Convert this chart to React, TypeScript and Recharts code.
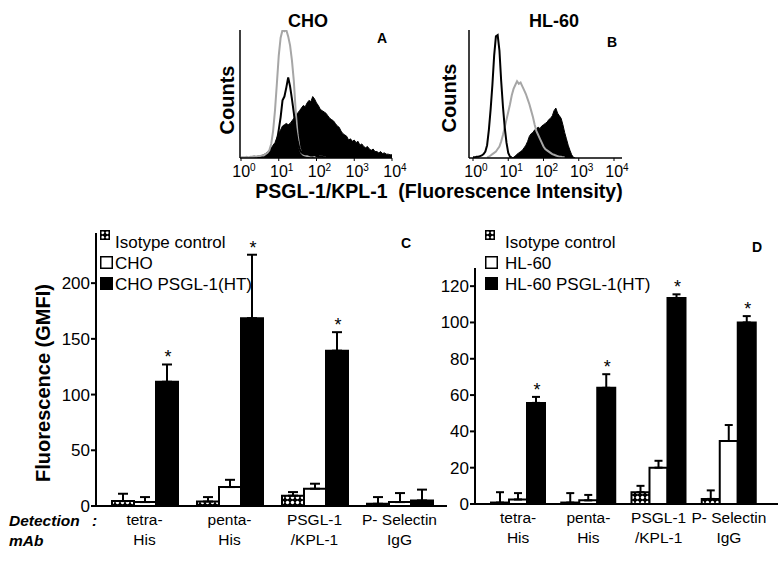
import React from 'react';
import {
  ComposedChart,
  BarChart,
  Bar,
  Area,
  Line,
  XAxis,
  YAxis,
  ErrorBar,
  LabelList,
  Legend,
} from 'recharts';

const FONT = '"Liberation Sans", Arial, Helvetica, sans-serif';

// ---------------- Panels A & B : flow cytometry histograms ----------------
const HIST_STEP = 0.05; // log10 units per bin
const HIST_BINS = 81; // 10^0 .. 10^4
const DECADES = [0, 1, 2, 3, 4];
const DECADE_LABELS = ['0', '1', '2', '3', '4'];
const COUNT_TICKS = [100, 98, 96, 94, 92, 90, 87, 84, 80, 76, 71, 65, 58, 50, 40, 30, 20, 10];

// Panel A (CHO) — % of full scale, starting at the given log10 value
const A_GRAY_START = 0;
const A_GRAY = [
  0.5, 0.5, 0.5, 1, 0.5, 1, 1, 1.5, 1, 1.5,
  1.5, 2, 2, 3, 4, 6, 11, 21, 37, 58,
  80, 94, 100, 99, 100, 95, 88, 76, 60, 36,
  18, 8, 4, 2.5, 2, 1.5, 1.5, 1, 1.5, 1,
  1, 1.5, 1, 1, 0.5, 0.5,
];
const A_OPEN_START = 0.65;
const A_OPEN = [
  0.5, 1, 1.5, 2.5, 4, 7, 13, 22, 32, 45,
  48, 55, 63, 56, 46, 35, 22, 13, 7, 4.5,
  3.5, 3, 3, 2.5, 2, 2, 2.5, 1.5, 1.5, 1,
  1, 0.5, 0.5,
];
const A_FILLED_START = 0;
const A_FILLED = [
  0, 0, 0, 0, 0, 0, 0, 0, 0.5, 1,
  1.5, 2, 2.5, 3.5, 4.5, 6, 8, 10, 12, 16,
  19, 22, 25, 26, 27, 26, 27, 29, 31, 33,
  35, 37, 39, 41, 40, 43, 45, 44, 48, 46,
  43, 41, 38, 37, 36, 35, 33, 31, 30, 29,
  27, 25, 24, 21, 19, 18, 17, 14, 15, 13,
  14, 12, 13, 10, 11, 9, 8, 9, 7, 6,
  7, 5, 5, 4, 5, 3.5, 4, 3, 3, 2.5,
  2.5,
];

// Panel B (HL-60)
const B_OPEN_START = 0;
const B_OPEN = [
  0.5, 0.5, 1, 1, 1.5, 2, 3, 5, 10, 22,
  38, 57, 80, 95, 96, 84, 60, 40, 24, 12,
  4, 1, 0.5,
];
const B_GRAY_START = 0.4;
const B_GRAY = [
  0.5, 1, 2, 3, 4, 5, 7, 9, 13, 18,
  24, 30, 36, 42, 49, 54, 57, 60, 58, 59,
  56, 53, 50, 46, 42, 37, 32, 26, 21, 18,
  15, 12, 9, 7, 6, 5, 4, 3, 2.5, 2,
  1.5, 1, 1, 0.5, 0.5,
];
const B_FILLED_START = 1.1;
const B_FILLED = [
  0, 0.5, 1.5, 3, 4, 5, 6, 8, 10, 13,
  17, 19, 20, 22, 23, 24, 23, 25, 26, 27,
  28, 30, 31, 33, 37, 39, 35, 33, 31, 26,
  20, 15, 10, 6, 2.5, 0.5, 0,
];

function histTable(series: Record<string, [number, number[]]>) {
  const rows: any[] = [];
  for (let i = 0; i < HIST_BINS; i++) {
    const row: any = { x: Math.round(i * HIST_STEP * 100) / 100 };
    Object.keys(series).forEach((k) => {
      const [start, vals] = series[k];
      const j = i - Math.round(start / HIST_STEP);
      row[k] = j >= 0 && j < vals.length ? vals[j] : null;
    });
    rows.push(row);
  }
  return rows;
}

const A_DATA = histTable({
  gray: [A_GRAY_START, A_GRAY],
  open: [A_OPEN_START, A_OPEN],
  filled: [A_FILLED_START, A_FILLED],
});
const B_DATA = histTable({
  gray: [B_GRAY_START, B_GRAY],
  open: [B_OPEN_START, B_OPEN],
  filled: [B_FILLED_START, B_FILLED],
});

// ---------------- Panels C & D : bar charts ----------------
const CATEGORIES = ['tetra-His', 'penta-His', 'PSGL-1/KPL-1', 'P-Selectin IgG'];
const CATEGORY_LINES = [
  ['tetra-', 'His'],
  ['penta-', 'His'],
  ['PSGL-1', '/KPL-1'],
  ['P- Selectin', 'IgG'],
];

const C_ISOTYPE = [4.4, 4, 9.3, 2];
const C_ISOTYPE_TOP = [11, 8, 12.5, 8];
const C_CHO = [3.5, 17, 15.5, 3.5];
const C_CHO_TOP = [8, 23.5, 20, 11.6];
const C_CHO_HT = [111.5, 168.6, 139.4, 5];
const C_CHO_HT_TOP = [127, 225.5, 156, 14.7];
const C_SIGNIFICANT = [true, true, true, false];
const C_TICKS = [0, 50, 100, 150, 200];

const D_ISOTYPE = [0.8, 0.8, 6.5, 2.8];
const D_ISOTYPE_TOP = [6.5, 6, 10, 7.5];
const D_HL60 = [2.5, 2, 20, 34.7];
const D_HL60_TOP = [6, 5, 23.8, 43.5];
const D_HL60_HT = [55.7, 64, 113.5, 100];
const D_HL60_HT_TOP = [59, 71.5, 115.5, 103.5];
const D_SIGNIFICANT = [true, true, true, true];
const D_TICKS = [0, 20, 40, 60, 80, 100, 120];

const C_LEGEND = ['Isotype control', 'CHO', 'CHO PSGL-1(HT)'];
const D_LEGEND = ['Isotype control', 'HL-60', 'HL-60 PSGL-1(HT)'];

function barTable(
  iso: number[], isoTop: number[],
  ctl: number[], ctlTop: number[],
  ht: number[], htTop: number[],
  sig: boolean[],
) {
  return CATEGORIES.map((cat, i) => ({
    cat,
    iso: iso[i],
    isoErr: [0, isoTop[i] - iso[i]],
    ctl: ctl[i],
    ctlErr: [0, ctlTop[i] - ctl[i]],
    ht: ht[i],
    htErr: [0, htTop[i] - ht[i]],
    htTop: htTop[i],
    sig: sig[i],
  }));
}

const C_DATA = barTable(C_ISOTYPE, C_ISOTYPE_TOP, C_CHO, C_CHO_TOP, C_CHO_HT, C_CHO_HT_TOP, C_SIGNIFICANT);
const D_DATA = barTable(D_ISOTYPE, D_ISOTYPE_TOP, D_HL60, D_HL60_TOP, D_HL60_HT, D_HL60_HT_TOP, D_SIGNIFICANT);

// ---------------- helpers ----------------
const DecadeTick = (props: any) => {
  const { x, y, payload } = props;
  const idx = DECADES.indexOf(payload.value);
  return (
    <text x={x + 3} y={y + 13.5} textAnchor="middle" fontSize={16} fill="#000" fontFamily={FONT}>
      10
      <tspan dy={-6} fontSize={10}>
        {DECADE_LABELS[idx]}
      </tspan>
    </text>
  );
};

const CategoryTick = (props: any) => {
  const { x, y, payload } = props;
  const idx = CATEGORIES.indexOf(payload.value);
  const lines = CATEGORY_LINES[idx] || [String(payload.value)];
  return (
    <text textAnchor="middle" fontSize={15.5} fill="#000" fontFamily={FONT}>
      <tspan x={x} y={y + 19}>
        {lines[0]}
      </tspan>
      <tspan x={x} y={y + 39}>
        {lines[1]}
      </tspan>
    </text>
  );
};

const makeStar = (data: any[]) => (props: any) => {
  const vb = props.viewBox && props.viewBox.height != null ? props.viewBox : props;
  const { x, y, width, height } = vb;
  const row = data[props.index];
  if (!row || !row.sig || !height) return null;
  const ppu = height / row.ht;
  const top = y + height - row.htTop * ppu;
  return (
    <text x={x + width / 2 + 1} y={top - 1} textAnchor="middle" fontSize={18} fill="#000" fontFamily={FONT}>
      *
    </text>
  );
};

const PatternDef = ({ id }: { id: string }) => (
  <defs>
    <pattern id={id} width={5} height={5} patternUnits="userSpaceOnUse">
      <rect width={5} height={5} fill="#000" />
      <circle cx={2.5} cy={2.5} r={1.7} fill="#fff" />
    </pattern>
  </defs>
);

const LegendBox = ({ names, fills, col }: { names: string[]; fills: string[]; col: number }) => (
  <div style={{ fontFamily: FONT, fontSize: 17, lineHeight: '21px', color: '#000' }}>
    {names.map((n, i) => {
      const small = i === 0;
      const s = small ? 10 : 13;
      return (
        <div key={n} style={{ display: 'flex', alignItems: 'flex-start', height: i === 2 ? 22 : 21, whiteSpace: 'nowrap' }}>
          <div style={{ width: col, flex: 'none' }}>
            <svg width={s} height={s} style={{ display: 'block', marginTop: small ? -2 : 3 }}>
              <rect x={0.75} y={0.75} width={s - 1.5} height={s - 1.5} fill={fills[i]} stroke="#000" strokeWidth={1.5} />
            </svg>
          </div>
          <span>{n}</span>
        </div>
      );
    })}
  </div>
);

// ---------------- charts ----------------
const HistChart = ({ data, padL, padR, yW, frame }: any) => (
  <ComposedChart width={215} height={180} data={data} margin={{ top: 20, right: 23, bottom: 8, left: 0 }}>
    <XAxis
      type="number"
      dataKey="x"
      domain={[0, 4]}
      ticks={DECADES}
      tick={DecadeTick}
      tickSize={3}
      tickMargin={2}
      tickLine={{ stroke: '#000' }}
      axisLine={{ stroke: '#000', strokeWidth: 1.5 }}
      height={24}
      padding={{ left: padL, right: padR }}
      allowDataOverflow
    />
    <YAxis
      type="number"
      domain={[0, 100]}
      ticks={COUNT_TICKS}
      tick={false}
      tickSize={3}
      tickLine={{ stroke: '#000' }}
      axisLine={{ stroke: '#000', strokeWidth: 1.5 }}
      width={yW}
      allowDataOverflow
    />
    {frame && (
      <XAxis xAxisId="frameTop" orientation="top" type="number" domain={[0, 1]} tick={false} tickLine={false} height={0} axisLine={{ stroke: '#000', strokeWidth: 1.5 }} />
    )}
    {frame && (
      <YAxis yAxisId="frameRight" orientation="right" type="number" domain={[0, 1]} tick={false} tickLine={false} width={0} axisLine={{ stroke: '#000', strokeWidth: 1.5 }} />
    )}
    <Area type="linear" dataKey="filled" stroke="#000" strokeWidth={1} fill="#000" fillOpacity={1} isAnimationActive={false} />
    <Line type="linear" dataKey="gray" stroke="#a6a6a6" strokeWidth={2} dot={false} isAnimationActive={false} />
    <Line type="linear" dataKey="open" stroke="#000" strokeWidth={2} dot={false} isAnimationActive={false} />
  </ComposedChart>
);

const GroupBars = ({ data, width, height, margin, yW, domain, ticks, padding, barSize, capW, patId, legend, legendPos, legendCol }: any) => (
  <BarChart width={width} height={height} data={data} margin={margin} barGap={0} barSize={barSize}>
    <PatternDef id={patId} />
    <XAxis
      dataKey="cat"
      interval={0}
      tick={CategoryTick}
      tickLine={false}
      tickSize={0}
      tickMargin={0}
      height={40}
      padding={padding}
      axisLine={{ stroke: '#000', strokeWidth: 2 }}
    />
    <YAxis
      type="number"
      domain={domain}
      ticks={ticks}
      width={yW}
      tickSize={5}
      tickMargin={1}
      tick={{ fill: '#000', fontSize: 17, fontFamily: FONT }}
      tickLine={{ stroke: '#000', strokeWidth: 2 }}
      axisLine={{ stroke: '#000', strokeWidth: 2 }}
      allowDataOverflow
    />
    <Legend
      layout="vertical"
      align="center"
      verticalAlign="middle"
      wrapperStyle={{ left: legendPos[0], top: legendPos[1], width: 'auto', height: 'auto' }}
      content={() => <LegendBox names={legend} fills={[`url(#${patId})`, '#fff', '#000']} col={legendCol} />}
    />
    <Bar dataKey="iso" name={legend[0]} fill={`url(#${patId})`} stroke="#000" strokeWidth={2} isAnimationActive={false}>
      <ErrorBar dataKey="isoErr" direction="y" width={capW} stroke="#000" strokeWidth={2} isAnimationActive={false} />
    </Bar>
    <Bar dataKey="ctl" name={legend[1]} fill="#fff" stroke="#000" strokeWidth={2} isAnimationActive={false}>
      <ErrorBar dataKey="ctlErr" direction="y" width={capW} stroke="#000" strokeWidth={2} isAnimationActive={false} />
    </Bar>
    <Bar dataKey="ht" name={legend[2]} fill="#000" stroke="#000" strokeWidth={2} isAnimationActive={false}>
      <ErrorBar dataKey="htErr" direction="y" width={capW} stroke="#000" strokeWidth={2} isAnimationActive={false} />
      <LabelList dataKey="ht" content={makeStar(data)} />
    </Bar>
  </BarChart>
);

export default function App() {
  const bold = { fontWeight: 'bold' as const };
  return (
    <div
      style={{
        position: 'absolute',
        left: 0,
        top: 0,
        width: 782,
        height: 562,
        background: '#fff',
        overflow: 'hidden',
        fontFamily: FONT,
      }}
    >
      <div style={{ position: 'absolute', left: 200, top: 10 }}>
        <HistChart data={A_DATA} padL={1} padR={0} yW={40} frame={false} />
      </div>
      <div style={{ position: 'absolute', left: 430, top: 10 }}>
        <HistChart data={B_DATA} padL={4} padR={8} yW={39} frame={true} />
      </div>
      <div style={{ position: 'absolute', left: 0, top: 220 }}>
        <GroupBars
          data={C_DATA}
          width={450}
          height={330}
          margin={{ top: 13, right: 3, bottom: 4, left: 0 }}
          yW={96}
          domain={[0, 245]}
          ticks={C_TICKS}
          padding={{ left: 6, right: 5 }}
          barSize={22}
          capW={5}
          patId="isoPatC"
          legend={C_LEGEND}
          legendPos={[100, 12]}
          legendCol={15}
        />
      </div>
      <div style={{ position: 'absolute', left: 420, top: 220 }}>
        <GroupBars
          data={D_DATA}
          width={362}
          height={330}
          margin={{ top: 48, right: 4, bottom: 6, left: 0 }}
          yW={55}
          domain={[0, 130]}
          ticks={D_TICKS}
          padding={{ left: 8, right: 14 }}
          barSize={18}
          capW={4}
          patId="isoPatD"
          legend={D_LEGEND}
          legendPos={[65, 12]}
          legendCol={20}
        />
      </div>
      <svg
        width={782}
        height={562}
        style={{ position: 'absolute', left: 0, top: 0, pointerEvents: 'none' }}
        fontFamily={FONT}
        fill="#000"
      >
        <text x={308} y={27} textAnchor="middle" fontSize={18} {...bold}>CHO</text>
        <text x={554} y={27} textAnchor="middle" fontSize={18} {...bold}>HL-60</text>
        <text x={382} y={43} textAnchor="middle" fontSize={14} {...bold}>A</text>
        <text x={612} y={47} textAnchor="middle" fontSize={14} {...bold}>B</text>
        <text transform="translate(234,100) rotate(-90)" textAnchor="middle" fontSize={20} {...bold}>Counts</text>
        <text transform="translate(456,98) rotate(-90)" textAnchor="middle" fontSize={20} {...bold}>Counts</text>
        <text x={439} y={198} textAnchor="middle" fontSize={19.5} {...bold} style={{ whiteSpace: 'pre' }}>
          {'PSGL-1/KPL-1  (Fluorescence Intensity)'}
        </text>
        <text transform="translate(50,383) rotate(-90)" textAnchor="middle" fontSize={20} {...bold}>
          Fluorescence (GMFI)
        </text>
        <text x={9} y={526} fontSize={15.5} fontWeight="bold" fontStyle="italic">Detection</text>
        <text x={92} y={526} fontSize={15.5} fontWeight="bold" fontStyle="italic">:</text>
        <text x={9} y={546} fontSize={15.5} fontWeight="bold" fontStyle="italic">mAb</text>
        <text x={406} y={248} textAnchor="middle" fontSize={14} {...bold}>C</text>
        <text x={757} y={252} textAnchor="middle" fontSize={14} {...bold}>D</text>
      </svg>
    </div>
  );
}
